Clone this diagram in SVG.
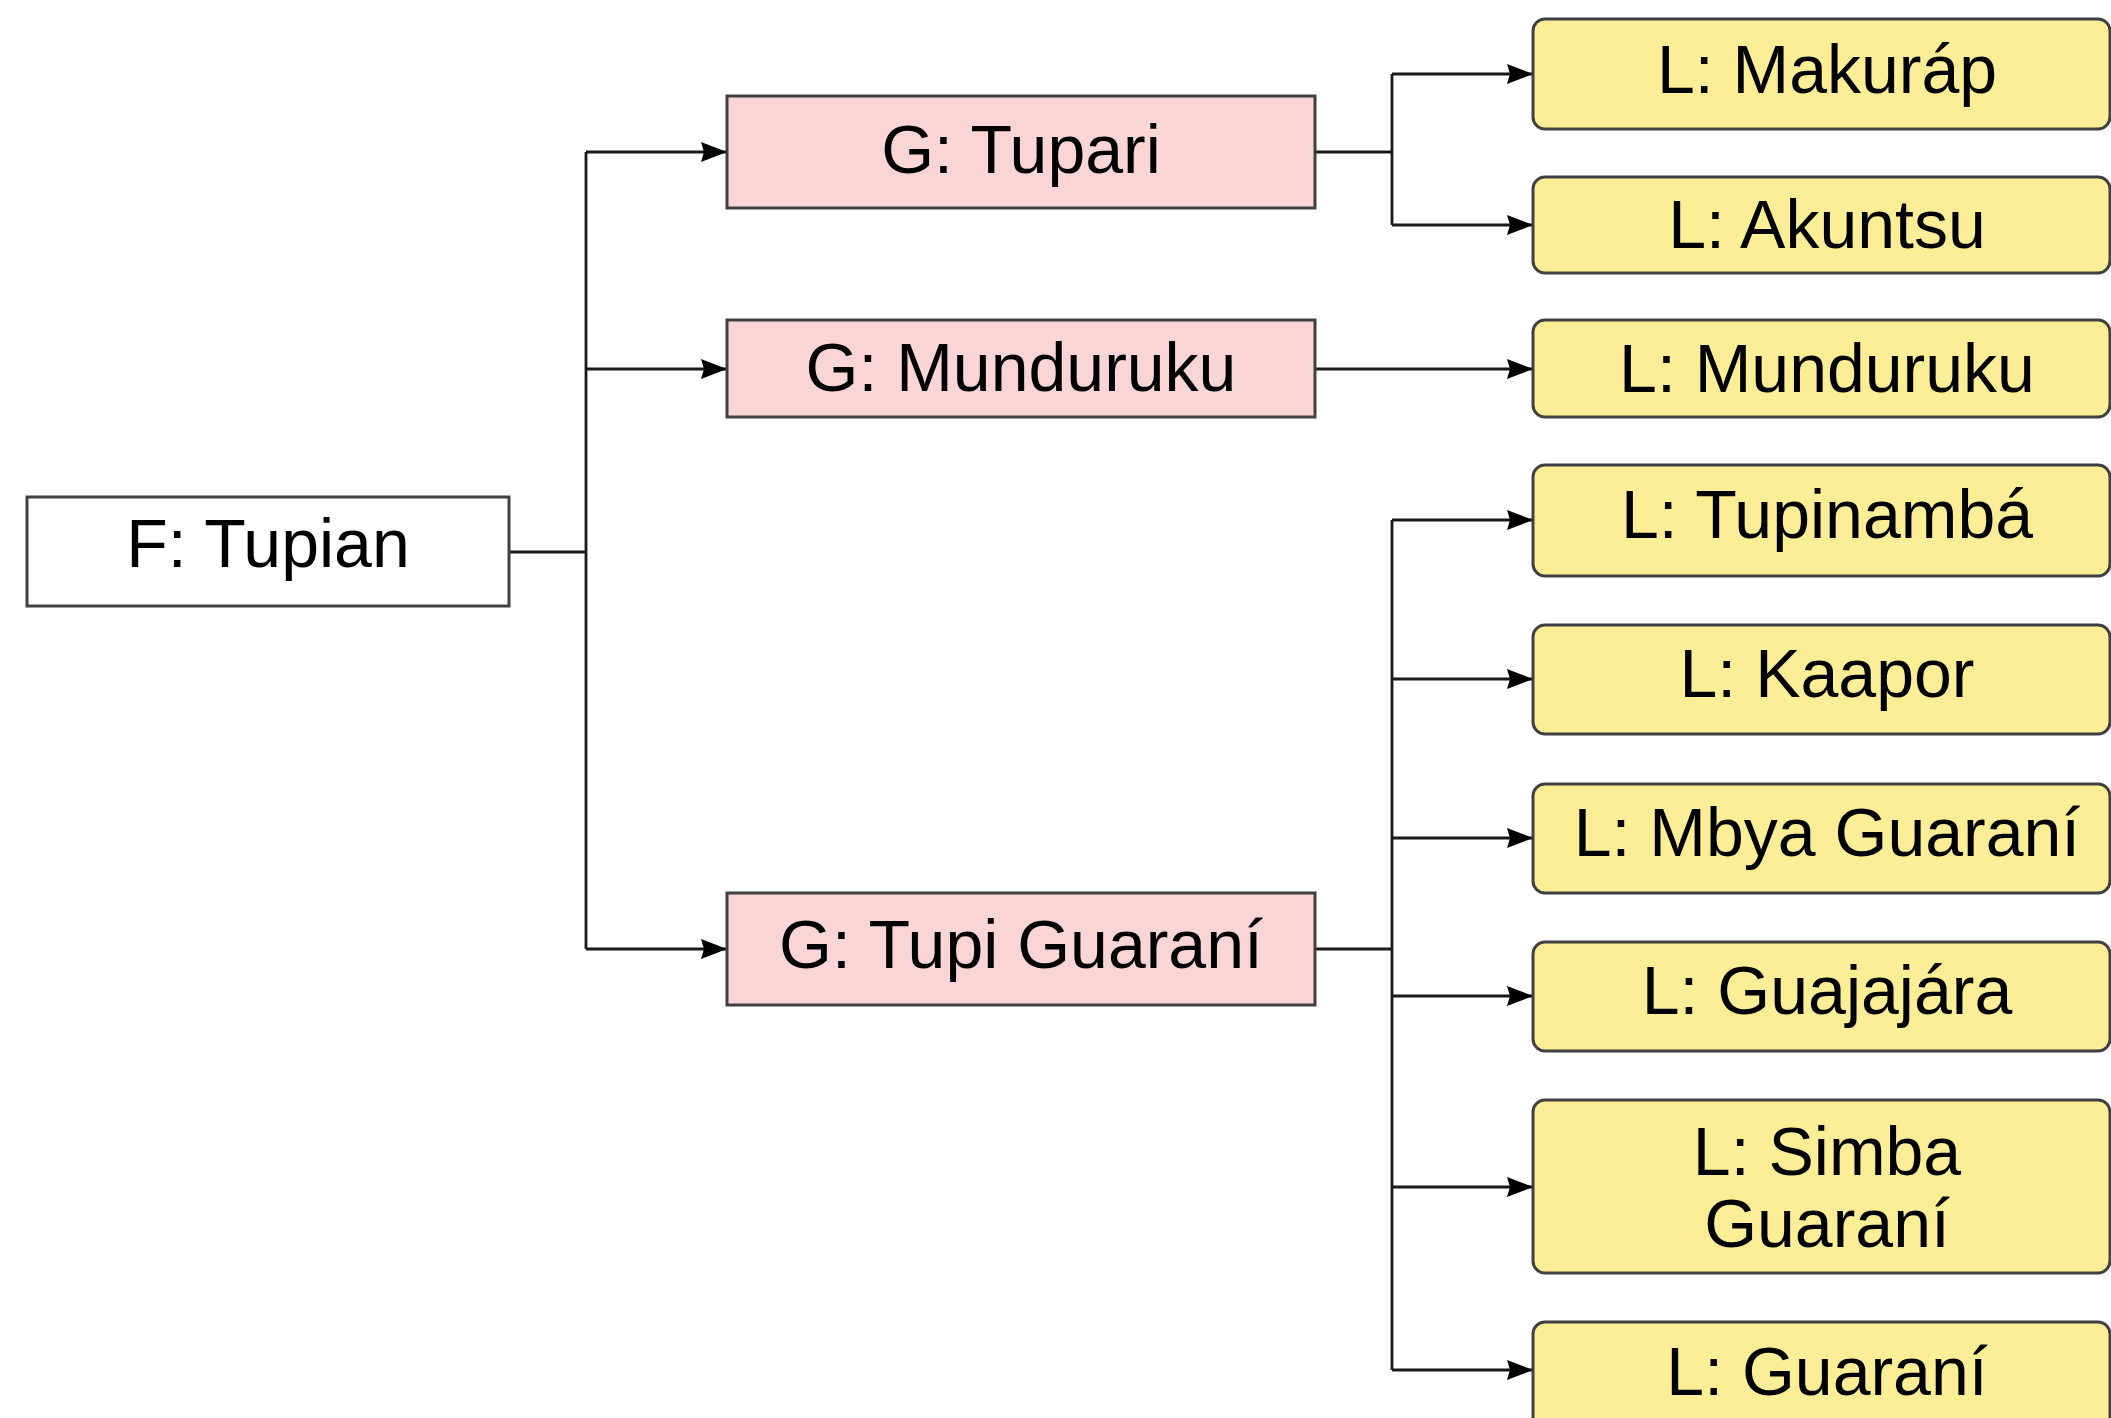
<svg xmlns="http://www.w3.org/2000/svg" width="2111" height="1418" viewBox="0 0 2111 1418">
<style>
  text { font-family: "Liberation Sans", Arial, Helvetica, sans-serif; font-size: 68px; fill: #000; text-anchor: middle; }
  .fam { fill: #ffffff; stroke: #404040; stroke-width: 3; }
  .grp { fill: #f9d5d5; stroke: #404040; stroke-width: 3; }
  .lang { fill: #fbee96; stroke: #404040; stroke-width: 3; }
  .edge { fill: none; stroke: #1a1a1a; stroke-width: 2.8; }
  .lt { }
</style>
<defs>
  <marker id="arrow" markerUnits="userSpaceOnUse" viewBox="0 0 26 20" refX="26" refY="10" markerWidth="26" markerHeight="20" orient="auto">
    <path d="M0,0 L26,10 L0,20 L3,10 z" fill="#000"/>
  </marker>
</defs>
<rect width="2111" height="1418" fill="#ffffff"/>
<g id="connectors">
  <path class="edge" d="M509,552 H586 M586,152 V949 M1315,152 H1392 M1392,74 V225 M1315,949 H1392 M1392,520 V1370"/>
  <path class="edge" marker-end="url(#arrow)" d="M586,152 H727"/>
  <path class="edge" marker-end="url(#arrow)" d="M586,369 H727"/>
  <path class="edge" marker-end="url(#arrow)" d="M586,949 H727"/>
  <path class="edge" marker-end="url(#arrow)" d="M1392,74 H1533"/>
  <path class="edge" marker-end="url(#arrow)" d="M1392,225 H1533"/>
  <path class="edge" marker-end="url(#arrow)" d="M1315,369 H1533"/>
  <path class="edge" marker-end="url(#arrow)" d="M1392,520 H1533"/>
  <path class="edge" marker-end="url(#arrow)" d="M1392,679 H1533"/>
  <path class="edge" marker-end="url(#arrow)" d="M1392,838 H1533"/>
  <path class="edge" marker-end="url(#arrow)" d="M1392,996 H1533"/>
  <path class="edge" marker-end="url(#arrow)" d="M1392,1187 H1533"/>
  <path class="edge" marker-end="url(#arrow)" d="M1392,1370 H1533"/>
</g>
<g id="f-tupian"><rect class="fam" x="27" y="497" width="482" height="109"/><text x="268" y="567">F: Tupian</text></g>
<g id="g-tupari"><rect class="grp" x="727" y="96" width="588" height="112"/><text x="1021" y="173">G: Tupari</text></g>
<g id="g-munduruku"><rect class="grp" x="727" y="320" width="588" height="97"/><text x="1021" y="391">G: Munduruku</text></g>
<g id="g-tupi-guarani"><rect class="grp" x="727" y="893" width="588" height="112"/><text x="1021" y="968">G: Tupi Guaraní</text></g>
<g id="l-makurap"><rect class="lang" x="1533" y="19" width="577" height="110" rx="12"/><text x="1827" y="93">L: Makuráp</text></g>
<g id="l-akuntsu"><rect class="lang" x="1533" y="177" width="577" height="96" rx="12"/><text x="1827" y="248">L: Akuntsu</text></g>
<g id="l-munduruku"><rect class="lang" x="1533" y="320" width="577" height="97" rx="12"/><text x="1827" y="392">L: Munduruku</text></g>
<g id="l-tupinamba"><rect class="lang" x="1533" y="465" width="577" height="111" rx="12"/><text x="1827" y="538">L: Tupinambá</text></g>
<g id="l-kaapor"><rect class="lang" x="1533" y="625" width="577" height="109" rx="12"/><text x="1827" y="697">L: Kaapor</text></g>
<g id="l-mbya-guarani"><rect class="lang" x="1533" y="784" width="577" height="109" rx="12"/><text x="1827" y="856">L: Mbya Guaraní</text></g>
<g id="l-guajajara"><rect class="lang" x="1533" y="942" width="577" height="109" rx="12"/><text x="1827" y="1014">L: Guajajára</text></g>
<g id="l-simba-guarani"><rect class="lang" x="1533" y="1100" width="577" height="173" rx="12"/><text x="1827" y="1175">L: Simba</text><text x="1827" y="1247">Guaraní</text></g>
<g id="l-guarani"><rect class="lang" x="1533" y="1322" width="577" height="110" rx="12"/><text x="1827" y="1395">L: Guaraní</text></g>
</svg>
